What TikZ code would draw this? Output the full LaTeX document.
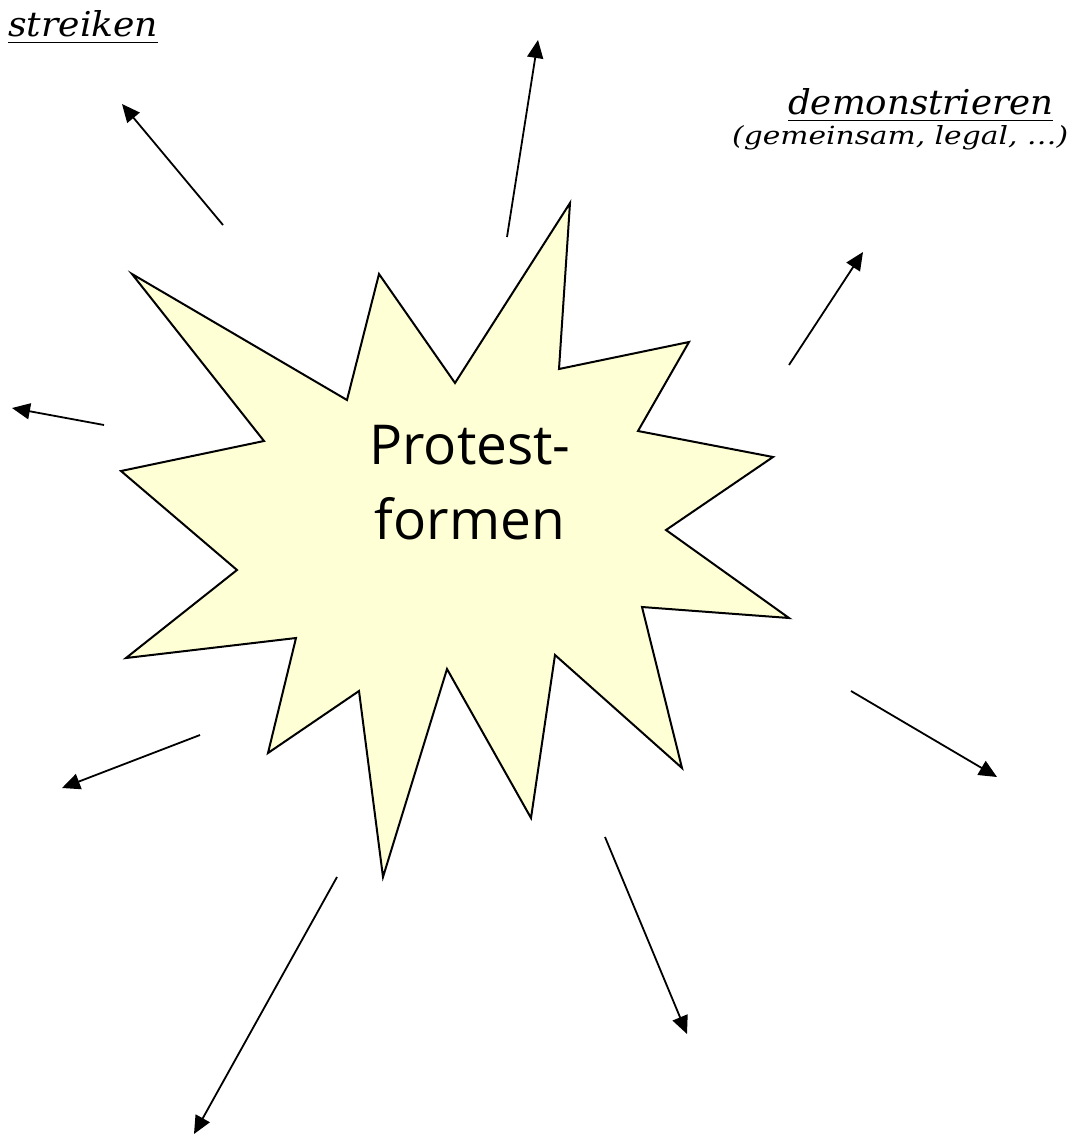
\documentclass[tikz,border=0pt]{standalone}
\usepackage{fontspec}
\newfontfamily\comicfont{Open Sans}
\newfontfamily\handfont{DejaVu Serif}
\usetikzlibrary{arrows.meta}
\definecolor{starfill}{RGB}{255,255,214}
\tikzset{
  starline/.style={draw=black, line width=2pt, line join=miter, fill=starfill},
  arr/.style={line width=1.8pt, -{Triangle[length=18pt,width=16pt]}},
  hand/.style={inner sep=0pt, font=\handfont\itshape},
}
\begin{document}
\begin{tikzpicture}[x=1pt,y=-1pt]
\useasboundingbox (0,0) rectangle (1088,1137);
\fill[white] (0,0) rectangle (1088,1137);

% star
\draw[starline] (570,203) -- (559,369) -- (689,342) -- (638,431) -- (773,457)
  -- (666,530) -- (789,618) -- (642,607) -- (682,768) -- (555,655) -- (531,818)
  -- (447,669) -- (383,877) -- (359,691) -- (268,753) -- (296,638) -- (126,658)
  -- (237,570) -- (121,471) -- (264,441) -- (132,274) -- (347,400) -- (379,274)
  -- (455,383) -- cycle;

\node[align=center, inner sep=0pt, font=\comicfont\fontsize{55}{75}\selectfont] (center) at (470,483) {Protest-\\formen};

% labels
\node[hand, anchor=base west] (streiken) at (8,37) {\resizebox{150pt}{26pt}{\underline{streiken}}};
\node[hand, anchor=base west] (demo) at (788,115) {\resizebox{265pt}{26pt}{\underline{demonstrieren}}};
\node[hand, anchor=base west] (demosub) at (732,144) {\resizebox{336pt}{19pt}{(gemeinsam, legal, \dots)}};

% arrow end points
\coordinate (t1) at (223,225); \coordinate (h1) at (122,104);
\coordinate (t2) at (507,237); \coordinate (h2) at (538,40);
\coordinate (t3) at (789,365); \coordinate (h3) at (863,252);
\coordinate (t4) at (104,425); \coordinate (h4) at (12,408);
\coordinate (t5) at (200,735); \coordinate (h5) at (62,788);
\coordinate (t6) at (337,877); \coordinate (h6) at (194,1134);
\coordinate (t7) at (605,837); \coordinate (h7) at (687,1034);
\coordinate (t8) at (851,691); \coordinate (h8) at (997,777);

\foreach \i in {1,...,8} \draw[arr] (t\i) -- (h\i);
\end{tikzpicture}
\end{document}
